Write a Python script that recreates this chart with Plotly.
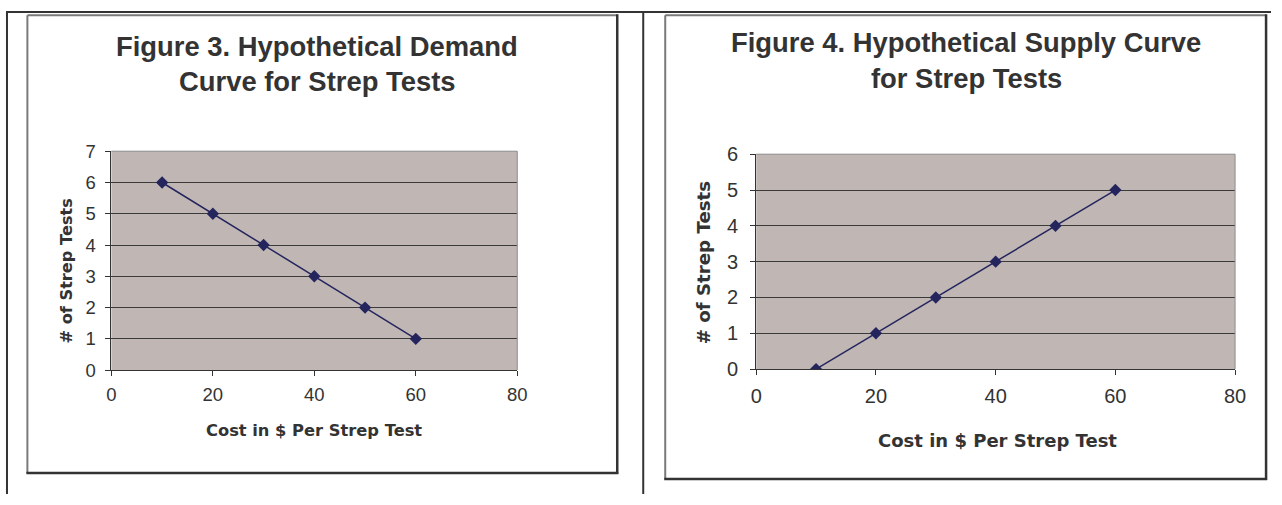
import plotly.graph_objects as go

W, H = 1282, 505
# the photographed page maps figure pixels to picture pixels as
# pic_x = 5.6 + 0.987 * fig_x ,  pic_y = 9.7 + 0.957 * fig_y  (measured);
# layout positions below are given in picture pixels and converted.
SX, OX = 0.987, 5.6
SY, OY = 0.957, 9.7

# ---- data ----
demand_cost = [10, 20, 30, 40, 50, 60]
demand_tests = [6, 5, 4, 3, 2, 1]
supply_cost = [10, 20, 30, 40, 50, 60]
supply_tests = [0, 1, 2, 3, 4, 5]
x_ticks = [0, 20, 40, 60, 80]
demand_y_ticks = [0, 1, 2, 3, 4, 5, 6, 7]
supply_y_ticks = [0, 1, 2, 3, 4, 5, 6]
title3 = ["Figure 3. Hypothetical Demand", "Curve for Strep Tests"]
title4 = ["Figure 4. Hypothetical Supply Curve", "for Strep Tests"]
x_title = "Cost in $ Per Strep Test"
y_title = "# of Strep Tests"


def px(x):
    return max(0.0, min(1.0, (x - OX) / SX / W))


def py(y):
    return 1 - max(0.0, min(1.0, (y - OY) / SY / H))


TXT = "#333333"
LINE = "#25255e"
BG = "#c0b7b4"

fig = go.Figure()
fig.add_trace(go.Scatter(
    x=demand_cost, y=demand_tests, mode="lines+markers",
    line=dict(color=LINE, width=1.5),
    marker=dict(symbol="diamond", size=9.5, color=LINE),
    xaxis="x", yaxis="y", showlegend=False, hoverinfo="skip"))
fig.add_trace(go.Scatter(
    x=supply_cost, y=supply_tests, mode="lines+markers",
    line=dict(color=LINE, width=1.5),
    marker=dict(symbol="diamond", size=9.5, color=LINE),
    xaxis="x2", yaxis="y2", showlegend=False, hoverinfo="skip"))

tick_font_l = dict(family="Liberation Sans, Arial", size=18.5, color=TXT)
tick_font_r = dict(family="Liberation Sans, Arial", size=20, color=TXT)

common_x = dict(range=[0, 80], tickvals=x_ticks, showgrid=False, zeroline=False,
                showline=True, linecolor="#333333", linewidth=1,
                ticks="outside", tickcolor="#333333", ticklen=5, fixedrange=True)
common_y = dict(showgrid=True, gridcolor="#3a3a3a", gridwidth=1, zeroline=False,
                showline=True, linecolor="#333333", linewidth=1,
                ticks="outside", tickcolor="#333333", ticklen=5, fixedrange=True)

fig.update_layout(
    width=W, height=H,
    margin=dict(l=0, r=0, t=0, b=0),
    paper_bgcolor="white", plot_bgcolor=BG,
    xaxis=dict(domain=[px(111), px(517)], anchor="y", tickfont=tick_font_l,
               ticklabelstandoff=3, **common_x),
    yaxis=dict(domain=[py(369), py(150)], anchor="x", range=[0, 7],
               tickvals=demand_y_ticks, tickfont=tick_font_l,
               ticklabelstandoff=6, **common_y),
    xaxis2=dict(domain=[px(756), px(1235)], anchor="y2", tickfont=tick_font_r,
                ticklabelstandoff=4, **common_x),
    yaxis2=dict(domain=[py(368), py(153)], anchor="x2", range=[0, 6],
                tickvals=supply_y_ticks, tickfont=tick_font_r,
                ticklabelstandoff=8, **common_y),
)

shapes = []
FR = "#333333"
# outer page frame
shapes.append(dict(type="line", xref="paper", yref="paper", x0=0, x1=1.0, y0=1 - 1.0 / H, y1=1 - 1.0 / H,
                   line=dict(color=FR, width=2)))
shapes.append(dict(type="line", xref="paper", yref="paper", x0=1.0 / W, x1=1.0 / W, y0=1 - 1.0 / H, y1=0,
                   line=dict(color=FR, width=2)))
shapes.append(dict(type="line", xref="paper", yref="paper", x0=px(643), x1=px(643), y0=1 - 1.0 / H, y1=0,
                   line=dict(color=FR, width=2)))
# chart boxes
for (l, t, r, b) in [(27, 14, 617, 472), (665, 14, 1266, 478)]:
    shapes.append(dict(type="line", xref="paper", yref="paper", x0=px(l), x1=px(r), y0=py(t), y1=py(t),
                       line=dict(color="#7a7a7a", width=2)))
    shapes.append(dict(type="line", xref="paper", yref="paper", x0=px(l), x1=px(l), y0=py(t), y1=py(b),
                       line=dict(color="#7a7a7a", width=2)))
    shapes.append(dict(type="line", xref="paper", yref="paper", x0=px(r), x1=px(r), y0=py(t - 1), y1=py(b + 1),
                       line=dict(color="#333333", width=2.5)))
    shapes.append(dict(type="line", xref="paper", yref="paper", x0=px(l - 1), x1=px(r + 1), y0=py(b), y1=py(b),
                       line=dict(color="#333333", width=2.5)))
# plot-area top/right border in gray
for xr, yr in [("x", "y"), ("x2", "y2")]:
    shapes.append(dict(type="line", xref=xr + " domain", yref=yr + " domain", x0=0, x1=1, y0=1, y1=1,
                       line=dict(color="#8c8c8c", width=1), layer="above"))
    shapes.append(dict(type="line", xref=xr + " domain", yref=yr + " domain", x0=1, x1=1, y0=0, y1=1,
                       line=dict(color="#8c8c8c", width=1), layer="above"))
fig.update_layout(shapes=shapes)

TF = dict(family="Liberation Sans, Arial", size=27.4, color=TXT)
ann = []


def text(x, y, s, font, angle=0):
    ann.append(dict(x=px(x), y=py(y), xref="paper", yref="paper", text=s, showarrow=False,
                    xanchor="center", yanchor="middle", font=font, textangle=angle))


text(317, 45, "<b>%s</b>" % title3[0], TF)
text(317, 80, "<b>%s</b>" % title3[1], TF)
text(966, 41, "<b>%s</b>" % title4[0], TF)
text(966, 77, "<b>%s</b>" % title4[1], TF)

text(314, 429, "<b>%s</b>" % x_title, dict(family="DejaVu Sans", size=16.3, color=TXT))
text(997, 439, "<b>%s</b>" % x_title, dict(family="DejaVu Sans", size=18.0, color=TXT))
text(66, 270, "<b>%s</b>" % y_title, dict(family="DejaVu Sans", size=16.2, color=TXT), -90)
text(703, 262, "<b>%s</b>" % y_title, dict(family="DejaVu Sans", size=18.2, color=TXT), -90)
fig.update_layout(annotations=ann)

fig.write_html("out.html")
